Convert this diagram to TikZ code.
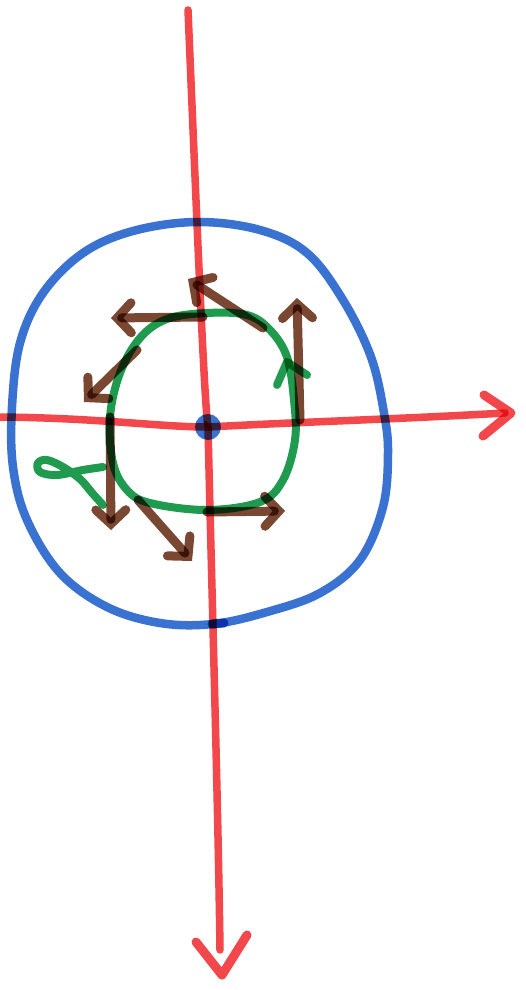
\documentclass[tikz,border=0pt]{standalone}
\usetikzlibrary{arrows.meta}
\definecolor{penred}{HTML}{F2474B}
\definecolor{penblue}{HTML}{3A72D2}
\definecolor{pengreen}{HTML}{1F9A4F}
\definecolor{penbrown}{HTML}{7A4832}
\tikzset{
  axis/.style={penred, line width=7.5pt, line cap=round, line join=round},
  axistip/.style={penred, line width=9pt, line cap=round, line join=round},
  outer/.style={penblue, line width=8.5pt, line cap=round},
  inner/.style={pengreen, line width=8pt, line cap=round, line join=round},
  flow/.style={penbrown, line width=9pt, line cap=round,
    -{Straight Barb[length=14pt, width=30pt, line cap=round, line width=9pt]}},
}
\begin{document}
\begin{tikzpicture}[x=1pt, y=-1pt]
\useasboundingbox (0,0) rectangle (526,990);
\fill[white] (0,0) rectangle (526,990);
% axes coordinates
\coordinate (vtop) at (188,10);
\coordinate (vbot) at (220,950);
\coordinate (vtip) at (222,975);
\coordinate (vla) at (196,942);
\coordinate (vra) at (247,935);
\coordinate (hleft) at (0,417);
\coordinate (hright) at (505,413);
\coordinate (htip) at (511,413);
\coordinate (hua) at (484,395);
\coordinate (hda) at (483,436);
\coordinate (o) at (208,427);
\begin{scope}[blend mode=multiply]
% vertical axis
\draw[axis] (vtop) .. controls (196,200) and (204,400) .. (208,427)
  .. controls (212,600) and (218,800) .. (vbot);
\draw[axistip] (vla) -- (vtip) -- (vra);
% horizontal axis
\draw[axis] (hleft) .. controls (100,418) and (160,427) .. (o)
  .. controls (300,422) and (400,419) .. (hright);
\draw[axistip] (hua) -- (htip) -- (hda);
% outer blue curve
\draw[outer] plot[smooth cycle, tension=0.6] coordinates {
  (197,222) (133,231) (83,253) (43,293) (20,343) (12,407) (13,467)
  (27,520) (60,573) (107,607) (160,623) (213,624) (267,612) (320,593)
  (360,560) (383,507) (388,453) (384,413) (371,357) (343,300) (307,253)
  (260,230)};
\draw[penblue, line width=9pt, line cap=round] (212,624) -- (224,623);
% centre dot
\fill[penblue] (o) circle (13pt);
\draw[penred, line width=3pt, line cap=round] (205,422) -- (211,430);
% inner green curve
\draw[inner] plot[smooth cycle, tension=0.6] coordinates {
  (207,313) (167,319) (140,338) (120,373) (110,417) (113,463) (127,490)
  (150,503) (207,510) (260,502) (283,480) (295,440) (294,400) (287,357)
  (270,330) (247,315)};
% green arrow mark
\draw[inner] (277,385) -- (287,362) -- (307,375);
% green loop
\draw[inner] plot[smooth, tension=0.6] coordinates {
  (103,467) (83,470) (57,475) (40,472) (38,463) (47,460) (63,467)
  (80,479) (93,494) (103,505)};
% brown arrows
\coordinate (a1s) at (263,328); \coordinate (a1t) at (188,279);
\coordinate (a2s) at (203,317); \coordinate (a2t) at (111,318);
\coordinate (a3s) at (137,350); \coordinate (a3t) at (84,402);
\coordinate (a4s) at (110,417); \coordinate (a4t) at (111,530);
\coordinate (a5s) at (138,500); \coordinate (a5t) at (192,561);
\coordinate (a6s) at (207,512); \coordinate (a6t) at (285,511);
\coordinate (a7s) at (300,420); \coordinate (a7t) at (297,298);
\draw[flow] (a1s) -- (a1t);
\draw[flow] (a2s) -- (a2t);
\draw[flow] (a3s) -- (a3t);
\draw[flow] (a4s) -- (a4t);
\draw[flow] (a5s) -- (a5t);
\draw[flow] (a6s) -- (a6t);
\draw[flow] (a7s) -- (a7t);
\end{scope}
\end{tikzpicture}
\end{document}
